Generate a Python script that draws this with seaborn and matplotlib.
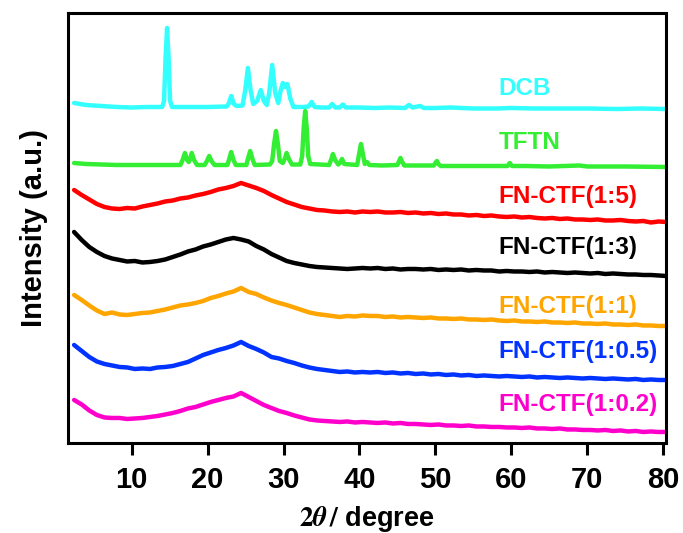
import numpy as np
import pandas as pd
import matplotlib
matplotlib.use("Agg")
import matplotlib.pyplot as plt
import seaborn as sns

sns.set_theme(style="ticks")
plt.rcParams["font.family"] = ["Liberation Sans", "DejaVu Sans"]
plt.rcParams["font.weight"] = "bold"
plt.rcParams["mathtext.fontset"] = "stix"
plt.rcParams["text.color"] = "black"
plt.rcParams["axes.labelcolor"] = "black"
plt.rcParams["xtick.color"] = "black"
plt.rcParams["ytick.color"] = "black"

# ---------------------------------------------------------------------------
# Powder XRD patterns (2-theta in degrees, intensity in a.u.)
# ---------------------------------------------------------------------------

# Monomer DCB
two_theta_dcb = [2.4, 4.0, 6.0, 8.0, 10.0, 12.0, 14.0, 14.25, 14.45, 14.65, 14.85, 15.05, 15.3,
                 17.0, 20.0, 22.5, 22.75, 23.1, 23.45, 23.8, 24.6, 24.95, 25.3, 25.65, 26.0,
                 26.5, 27.0, 27.4, 27.8, 28.1, 28.5, 28.9, 29.3, 29.6, 29.9, 30.2, 30.5,
                 30.9, 31.3, 32.5, 33.3, 33.7, 34.1, 35.0, 36.0, 36.4, 36.8, 37.4, 37.8,
                 38.2, 40.0, 42.0, 44.0, 46.0, 46.5, 47.0, 48.0, 48.5, 50.0, 52.0, 55.0,
                 58.0, 60.0, 63.0, 66.0, 70.0, 74.0, 77.0, 80.4]
intensity_dcb = [20, 18, 17, 16, 15.5, 16, 16, 22, 65, 95, 65, 22, 16,
                 16, 16, 16.5, 19, 27, 19, 17, 17.5, 33, 55, 33, 19,
                 22, 33, 22, 18, 30, 58, 30, 20, 32, 40, 36, 39,
                 24, 16, 16, 16.5, 21, 16, 15.5, 15.5, 19, 15.5, 15.5, 18.5,
                 15.5, 15.5, 15, 15.5, 15, 18, 15.5, 17, 15, 15, 15.5, 14.5,
                 14.5, 15, 14.5, 14.5, 14.5, 14, 14.5, 14]

# Monomer TFTN
two_theta_tftn = [2.4, 4.0, 6.0, 8.0, 10.0, 12.0, 14.0, 16.4, 16.7, 17.0, 17.3, 17.5, 17.7,
                  17.9, 18.2, 18.6, 19.6, 19.9, 20.2, 20.5, 20.9, 22.6, 22.8, 23.1, 23.4,
                  23.7, 25.1, 25.3, 25.6, 25.9, 26.2, 28.2, 28.5, 28.75, 29.0, 29.25, 29.5,
                  29.9, 30.2, 30.4, 30.7, 31.1, 32.2, 32.45, 32.65, 32.85, 33.05, 33.25, 33.5,
                  36.0, 36.3, 36.5, 36.8, 37.2, 37.5, 37.7, 38.0, 39.7, 39.95, 40.2, 40.45,
                  40.7, 41.0, 41.3, 43.0, 45.0, 45.2, 45.4, 45.6, 45.9, 49.8, 50.0, 50.2,
                  50.4, 50.7, 55.0, 59.5, 59.8, 60.1, 62.0, 65.0, 69.0, 70.0, 75.0, 80.4]
intensity_tftn = [15, 14, 13.5, 13, 13, 13, 13, 13, 18, 25, 18, 16, 19,
                  25, 18, 13, 13, 17, 22, 17, 13, 13, 18, 26, 18,
                  13, 13, 19, 27, 19, 13, 13.5, 17, 34, 47, 34, 17,
                  15, 20, 25, 19, 13.5, 13.5, 22, 50, 67, 50, 22, 14,
                  13, 19, 24, 18, 13.5, 16, 19, 14, 13, 24, 34, 24,
                  14, 16, 13, 12.5, 13, 16.5, 20, 16.5, 12.5, 12.5, 15, 17,
                  14, 12, 12, 12, 15, 12, 12, 11.5, 12.5, 11.5, 11.5, 11]

# Framework samples share one scan grid
two_theta_ctf = [2.4, 3.4, 4.4, 5.4, 6.4, 7.4, 8.4, 9.4, 10.4, 11.4,
                 12.4, 13.4, 14.4, 15.4, 16.4, 17.4, 18.4, 19.4, 20.4, 21.4,
                 22.4, 23.4, 24.4, 25.4, 26.4, 27.4, 28.4, 29.4, 30.4, 31.4,
                 32.4, 33.4, 34.4, 35.4, 36.4, 37.4, 38.4, 39.4, 40.4, 41.4,
                 42.4, 43.4, 44.4, 45.4, 46.4, 47.4, 48.4, 49.4, 50.4, 51.4,
                 52.4, 53.4, 54.4, 55.4, 56.4, 57.4, 58.4, 59.4, 60.4, 61.4,
                 62.4, 63.4, 64.4, 65.4, 66.4, 67.4, 68.4, 69.4, 70.4, 71.4,
                 72.4, 73.4, 74.4, 75.4, 76.4, 77.4, 78.4, 79.4, 80.4]

intensity_ctf_1_5 = [48, 43, 38.5, 34, 31, 29.5, 29, 30, 29.5, 31.5,
                     33, 34.5, 36.5, 37.5, 39.5, 40.5, 42.5, 44, 46, 48.5,
                     50, 52, 55, 52.5, 50, 47, 43, 39.5, 36, 33.5,
                     31, 29.5, 28, 27.5, 26.5, 26, 26.5, 25.5, 26.5, 26,
                     26.5, 25.5, 25.5, 26, 25, 25.5, 24.5, 25, 24, 24.5,
                     23.5, 23.5, 22.5, 23, 22, 22.5, 21.5, 21, 21.5, 20.5,
                     21, 20, 19.5, 20, 19, 19.5, 18.5, 18.5, 18, 18.5,
                     17.5, 17.5, 18, 17, 16.5, 17, 15.5, 16.5, 16]

intensity_ctf_1_3 = [56, 48, 41, 36, 32, 29.5, 28, 26.5, 27, 25.5,
                     26, 27, 28.5, 31, 33.5, 36.5, 38.5, 41.5, 43.5, 46,
                     48.5, 50, 48.5, 46.5, 42, 38.5, 34, 30.5, 27, 25,
                     23.5, 22, 21, 20.5, 20, 19.5, 19, 19.5, 20, 19.5,
                     20, 19, 19.5, 18.5, 19, 19, 18.5, 19, 18, 18.5,
                     18, 18.5, 17.5, 18, 17.5, 17.5, 16.5, 17, 16.5, 16.5,
                     16, 16.5, 15.5, 16, 15.5, 15, 15.5, 15, 14.5, 15,
                     14, 14.5, 14, 13.5, 13.5, 13, 13, 12.5, 12]

intensity_ctf_1_1 = [43, 38, 32.5, 27.5, 24, 25.5, 23.5, 23, 24, 25,
                     25.5, 27, 28.5, 30.5, 32.5, 33.5, 35, 37, 40, 42,
                     44.5, 46.5, 50, 46, 44, 40.5, 37.5, 35, 33, 30.5,
                     28, 25.5, 24, 23, 22, 21, 22, 21.5, 22.5, 22,
                     22, 21, 21.5, 20.5, 21, 20.5, 20, 20.5, 19.5, 19.5,
                     19, 19.5, 18.5, 18.5, 18, 18.5, 17.5, 17, 17.5, 16.5,
                     16.5, 16, 16.5, 15.5, 15.5, 15, 15.5, 14.5, 14.5, 14,
                     14.5, 13.5, 13.5, 13, 13.5, 12.5, 12.5, 12, 12]

intensity_ctf_1_05 = [48, 42, 36, 31.5, 29, 27.5, 26, 25.5, 24, 24.5,
                      24, 25.5, 26, 27, 29, 31, 34.5, 38, 40.5, 43,
                      45, 47.5, 51, 47, 44, 40.5, 36, 34.5, 32, 30,
                      27.5, 25.5, 24, 23, 22, 21, 21.5, 20.5, 21, 20.5,
                      21, 20, 20.5, 19.5, 20, 19, 19.5, 18.5, 19, 18,
                      18.5, 17.5, 18, 17, 17.5, 17, 16.5, 17, 16.5, 16,
                      16.5, 15.5, 16, 15.5, 15, 15.5, 15, 14.5, 15, 14.5,
                      14, 14.5, 14, 13.5, 14, 13, 13.5, 13, 13]

intensity_ctf_1_02 = [43, 38.5, 32.5, 28, 25.5, 25, 25, 24, 24.5, 25,
                      26, 27, 28.5, 30, 32, 34.5, 36, 38.5, 41, 43,
                      45, 46.5, 50, 46, 42, 38, 35, 32, 30, 27.5,
                      25.5, 23.5, 22.5, 22, 21.5, 21, 21.5, 20.5, 21, 20.5,
                      20, 20.5, 19.5, 20, 19, 19, 18.5, 18, 18.5, 17.5,
                      17.5, 17, 17.5, 16.5, 16.5, 16, 16, 15.5, 15.5, 15,
                      15.5, 14.5, 14.5, 14, 14.5, 13.5, 13.5, 13, 13, 12.5,
                      13, 12, 12.5, 11.5, 12, 11, 11.5, 11, 11]

sample_names = ["DCB", "TFTN", "FN-CTF(1:5)", "FN-CTF(1:3)",
                "FN-CTF(1:1)", "FN-CTF(1:0.5)", "FN-CTF(1:0.2)"]

# ---------------------------------------------------------------------------
# Stack the patterns into one long table, each lifted by its own offset
# ---------------------------------------------------------------------------
patterns = [
    (two_theta_dcb, intensity_dcb),
    (two_theta_tftn, intensity_tftn),
    (two_theta_ctf, intensity_ctf_1_5),
    (two_theta_ctf, intensity_ctf_1_3),
    (two_theta_ctf, intensity_ctf_1_1),
    (two_theta_ctf, intensity_ctf_1_05),
    (two_theta_ctf, intensity_ctf_1_02),
]
offsets = [320, 265, 205, 155, 105, 50, 0]
colors = ["#33FFFF", "#33EE33", "#FF0000", "#000000", "#FFA500", "#0033FF", "#FF00CC"]
label_y = [355, 300, 246, 195, 136, 91, 38]

frames = []
for name, (tt, inten), off in zip(sample_names, patterns, offsets):
    frames.append(pd.DataFrame({
        "two_theta": tt,
        "intensity": np.asarray(inten, dtype=float) + off,
        "sample": name,
    }))
data = pd.concat(frames, ignore_index=True)

fig = plt.figure(figsize=(6.83, 5.33), dpi=100)
ax = fig.add_axes([0.0996, 0.1689, 0.8762, 0.8067])
ax.set_facecolor("white")

sns.lineplot(data=data, x="two_theta", y="intensity", hue="sample",
             hue_order=sample_names, palette=dict(zip(sample_names, colors)),
             estimator=None, sort=False, legend=False, linewidth=3.2,
             solid_joinstyle="round", solid_capstyle="round", ax=ax)

for name, col, ly in zip(sample_names, colors, label_y):
    ax.text(58.3, ly, name, color=col, fontsize=17.5, fontweight="bold",
            ha="left", va="center")

ax.set_xlim(1.6, 80.45)
ax.set_ylim(0, 430)
ax.set_xticks([10, 20, 30, 40, 50, 60, 70, 80])
ax.set_yticks([])
ax.tick_params(axis="x", direction="out", length=8.5, width=2.2, pad=8,
               labelsize=21, colors="black", top=False)
for lab in ax.get_xticklabels():
    lab.set_fontweight("bold")
for sp in ax.spines.values():
    sp.set_visible(True)
    sp.set_linewidth(2.2)
    sp.set_color("black")

ax.set_xlabel(r"$\mathit{2}\theta\,/$ degree", fontsize=19.5, fontweight="bold",
              labelpad=7, color="black")
ax.set_ylabel("Intensity (a.u.)", fontsize=21, fontweight="bold", color="black")
ax.yaxis.set_label_coords(-0.033, 0.5)

fig.savefig("out.png", dpi=100, facecolor="white")
